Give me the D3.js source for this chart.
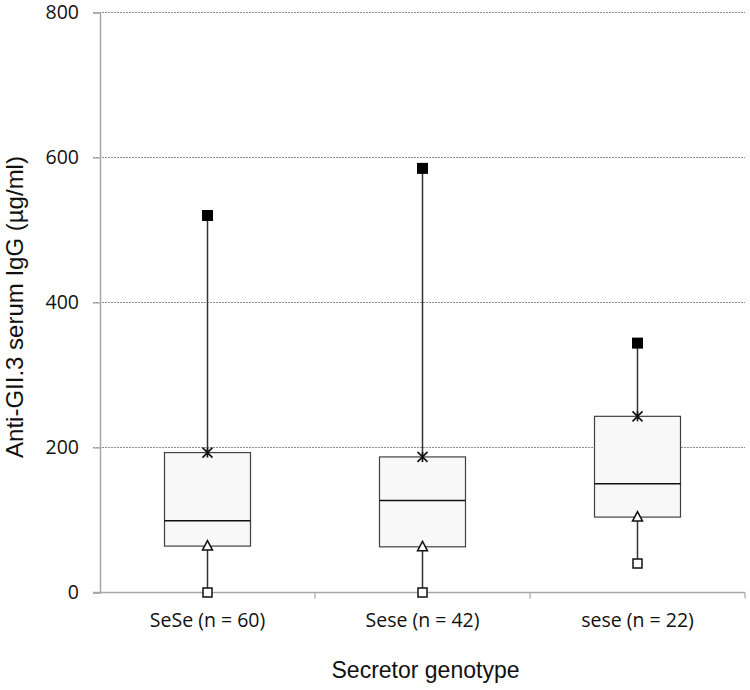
<!DOCTYPE html>
<html>
<head>
<meta charset="utf-8">
<script src="https://cdnjs.cloudflare.com/ajax/libs/d3/7.8.5/d3.min.js"></script>
<style>
  body { margin: 0; background: #fff; }
  svg { display: block; }
</style>
</head>
<body>
<svg id="chart" width="750" height="690"></svg>
<script>
const categories = ["SeSe (n = 60)", "Sese (n = 42)", "sese (n = 22)"];
const minVals    = [0, 0, 40];
const q1Vals     = [64, 63, 104];
const medianVals = [99, 127, 150];
const q3Vals     = [193, 187, 243];
const maxVals    = [520, 585, 344];
const yTicks     = [0, 200, 400, 600, 800];
const yTitle = "Anti-GII.3 serum IgG (µg/ml)";
const xTitle = "Secretor genotype";

(function () {
const data = categories.map((c, i) => ({
  cat: c, min: minVals[i], q1: q1Vals[i], med: medianVals[i], q3: q3Vals[i], max: maxVals[i]
}));

const svg = d3.select("#chart");
const mLeft = 100, mRight = 745, mTop = 12.5, mBottom = 592.5;

const x = d3.scaleBand().domain(categories).range([mLeft, mRight]).padding(0);
const y = d3.scaleLinear().domain([0, 800]).range([mBottom, mTop]);

const tickFont = "'Open Sans', sans-serif";
const titleFont = "'Liberation Sans', Arial, sans-serif";

// gridlines
svg.append("g").selectAll("line").data(yTicks.filter(t => t > 0)).join("line")
  .attr("x1", mLeft - 7).attr("x2", mRight)
  .attr("y1", d => y(d)).attr("y2", d => y(d))
  .attr("stroke", "#8c8c8c").attr("stroke-width", 1)
  .attr("stroke-dasharray", "2,1");

// y axis
const yAxis = svg.append("g").attr("transform", `translate(${mLeft},0)`)
  .call(d3.axisLeft(y).tickValues(yTicks).tickSize(7).tickPadding(14));
yAxis.select(".domain").attr("stroke", "#a6a6a6").attr("stroke-width", 1.5);
yAxis.selectAll(".tick line").attr("stroke", "#a6a6a6").attr("stroke-width", 1.2);
yAxis.selectAll("text").attr("font-family", tickFont).attr("font-size", 19.5).attr("fill", "#111");

// x axis
const xAxis = svg.append("g").attr("transform", `translate(0,${mBottom})`)
  .call(d3.axisBottom(x).tickSize(0).tickPadding(21));
xAxis.select(".domain").attr("stroke", "#a6a6a6").attr("stroke-width", 1.5)
  .attr("d", `M${mLeft - 7},0H${mRight}`);
xAxis.selectAll("text").attr("font-family", tickFont).attr("font-size", 19.5).attr("fill", "#111");
// band boundary ticks
svg.append("g").selectAll("line").data(categories.slice(1).concat(["__end"])).join("line")
  .attr("x1", d => d === "__end" ? mRight : x(d))
  .attr("x2", d => d === "__end" ? mRight : x(d))
  .attr("y1", mBottom).attr("y2", mBottom + 6)
  .attr("stroke", "#a6a6a6").attr("stroke-width", 1.2);

const bw = x.bandwidth() * 0.4;
const cx = d => x(d.cat) + x.bandwidth() / 2;

const g = svg.append("g");
// whiskers
g.selectAll(".wlow").data(data).join("line")
  .attr("x1", cx).attr("x2", cx)
  .attr("y1", d => y(d.min)).attr("y2", d => y(d.q1))
  .attr("stroke", "#333").attr("stroke-width", 1.5);
g.selectAll(".whigh").data(data).join("line")
  .attr("x1", cx).attr("x2", cx)
  .attr("y1", d => y(d.q3)).attr("y2", d => y(d.max))
  .attr("stroke", "#333").attr("stroke-width", 1.5);

// boxes
g.selectAll(".box").data(data).join("rect")
  .attr("x", d => cx(d) - bw / 2).attr("width", bw)
  .attr("y", d => y(d.q3)).attr("height", d => y(d.q1) - y(d.q3))
  .attr("fill", "#f8f8f8").attr("stroke", "#404040").attr("stroke-width", 1.2);

// median
g.selectAll(".med").data(data).join("line")
  .attr("x1", d => cx(d) - bw / 2).attr("x2", d => cx(d) + bw / 2)
  .attr("y1", d => y(d.med)).attr("y2", d => y(d.med))
  .attr("stroke", "#111").attr("stroke-width", 1.6);

// max: filled square
const s = 11;
g.selectAll(".mx").data(data).join("rect")
  .attr("x", d => cx(d) - s / 2).attr("y", d => y(d.max) - s / 2)
  .attr("width", s).attr("height", s).attr("fill", "#000");

// min: open square
const s2 = 9;
g.selectAll(".mn").data(data).join("rect")
  .attr("x", d => cx(d) - s2 / 2).attr("y", d => y(d.min) - s2 / 2)
  .attr("width", s2).attr("height", s2).attr("fill", "#fff")
  .attr("stroke", "#111").attr("stroke-width", 1.5);

// q1: open triangle
g.selectAll(".tri").data(data).join("path")
  .attr("d", d => {
    const px = cx(d), py = y(d.q1);
    return `M${px},${py - 5.5}L${px + 5},${py + 4}L${px - 5},${py + 4}Z`;
  })
  .attr("fill", "#fff").attr("stroke", "#111").attr("stroke-width", 1.5);

// q3: x marker
g.selectAll(".xm").data(data).join("path")
  .attr("d", d => {
    const px = cx(d), py = y(d.q3), r = 5;
    return `M${px - r},${py - r}L${px + r},${py + r}M${px - r},${py + r}L${px + r},${py - r}M${px},${py - r}L${px},${py + r}`;
  })
  .attr("stroke", "#111").attr("stroke-width", 1.6).attr("fill", "none");

// titles
svg.append("text")
  .attr("transform", `translate(23,307) rotate(-90)`)
  .attr("text-anchor", "middle")
  .attr("font-family", titleFont).attr("font-size", 24).attr("fill", "#111")
  .text(yTitle);
svg.append("text")
  .attr("x", (mLeft + mRight) / 2 + 3).attr("y", 678)
  .attr("text-anchor", "middle")
  .attr("font-family", titleFont).attr("font-size", 23).attr("fill", "#111")
  .text(xTitle);
})();
</script>
</body>
</html>
